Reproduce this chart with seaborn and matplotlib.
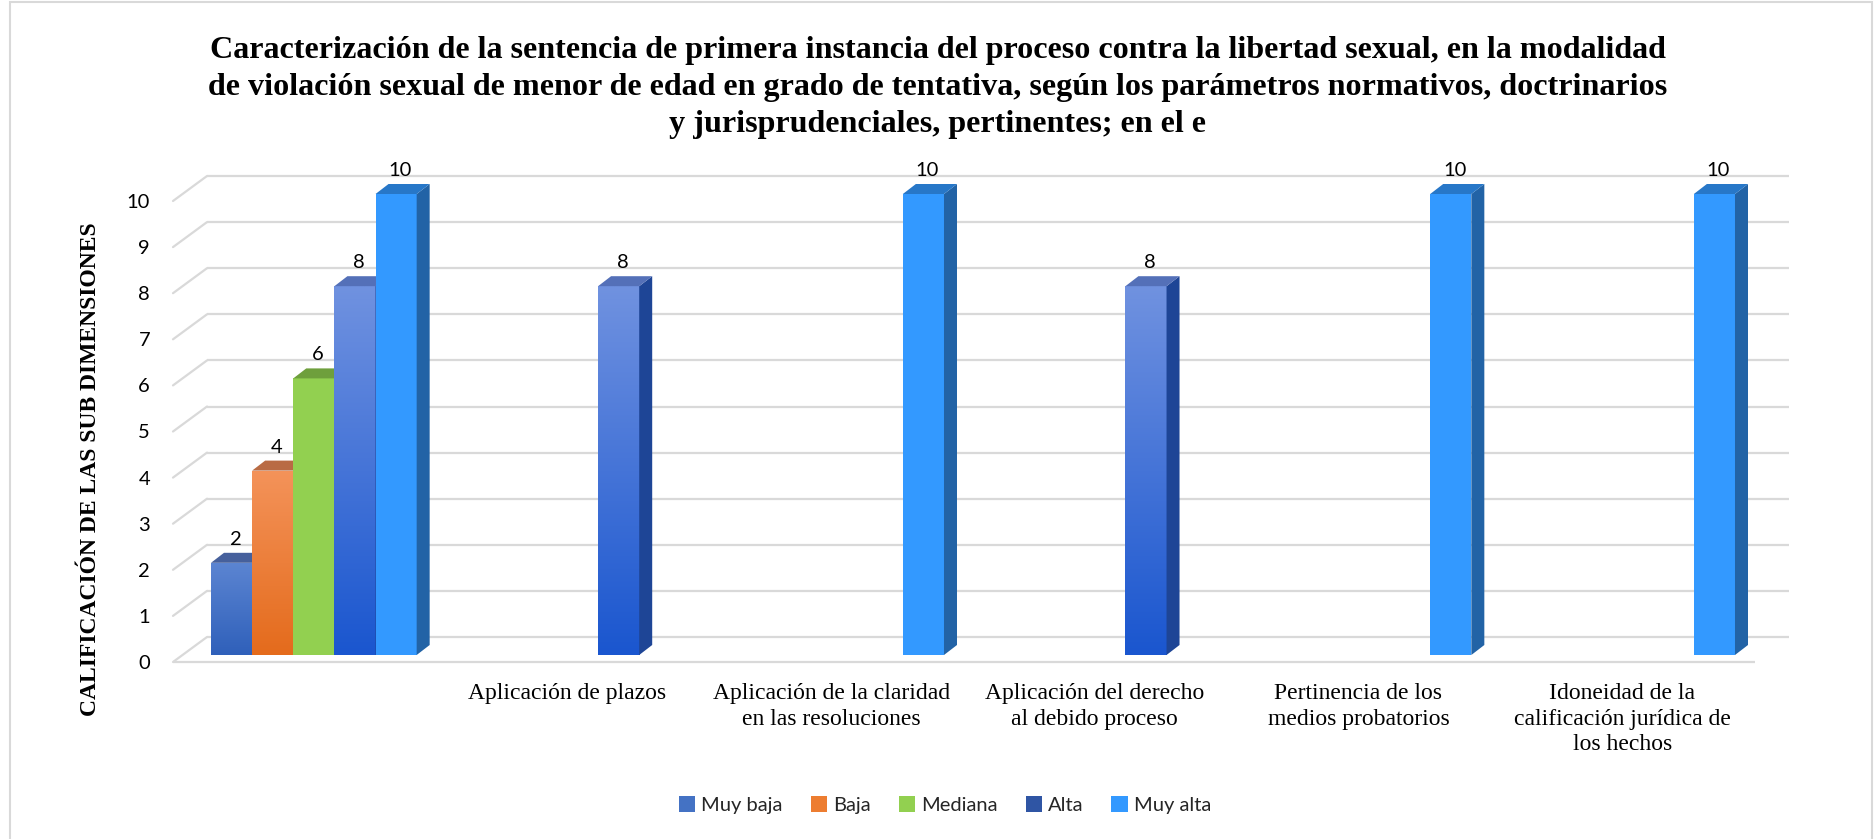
import matplotlib
matplotlib.use("Agg")
import matplotlib.pyplot as plt
import numpy as np
import pandas as pd
import seaborn as sns
from matplotlib.colors import LinearSegmentedColormap, to_hex
from matplotlib.patches import Polygon, Rectangle
from matplotlib.transforms import ScaledTranslation

TITLE_LINES = [
    "Caracterización de la sentencia de primera instancia del proceso contra la libertad sexual, en la modalidad",
    "de violación sexual de menor de edad en grado de tentativa, según los parámetros normativos, doctrinarios",
    "y jurisprudenciales, pertinentes; en el e",
]
Y_LABEL = "CALIFICACIÓN DE LAS SUB DIMENSIONES"

CATEGORIES = [
    "",
    "Aplicación de plazos",
    "Aplicación de la claridad\nen las resoluciones",
    "Aplicación del derecho\nal debido proceso",
    "Pertinencia de los\nmedios probatorios",
    "Idoneidad de la\ncalificación jurídica de\nlos hechos",
]
SERIES = ["Muy baja", "Baja", "Mediana", "Alta", "Muy alta"]

MUY_BAJA = [2, None, None, None, None, None]
BAJA = [4, None, None, None, None, None]
MEDIANA = [6, None, None, None, None, None]
ALTA = [8, 8, None, 8, None, None]
MUY_ALTA = [10, None, 10, None, 10, 10]
Y_TICKS = list(range(0, 11))

# colours: (bottom of front face, top of front face, side face, top face)
STYLE = {
    "Muy baja": ("#2f60ba", "#5c85d2", "#2a4f94", "#46609c"),
    "Baja":     ("#e46b1c", "#f4935a", "#b55a22", "#b96b44"),
    "Mediana":  ("#92d050", "#92d050", "#6e9f3c", "#6e9f3c"),
    "Alta":     ("#1a56cf", "#7092e0", "#1e4596", "#5470b8"),
    "Muy alta": ("#3399ff", "#3399ff", "#2263a6", "#2777c8"),
}
LEGEND_COLORS = {"Muy baja": "#4472c4", "Baja": "#ed7d31", "Mediana": "#92d050",
                 "Alta": "#2f55a4", "Muy alta": "#3399ff"}

rows = []
for name, vals in zip(SERIES, [MUY_BAJA, BAJA, MEDIANA, ALTA, MUY_ALTA]):
    for cat, v in zip(CATEGORIES, vals):
        if v is not None:
            rows.append({"categoria": cat, "nivel": name, "valor": v})
df = pd.DataFrame(rows)

sns.set_style("white")
W, H = 1875, 839
fig = plt.figure(figsize=(W / 100, H / 100), dpi=100)
fig.patch.set_facecolor("white")
renderer = fig.canvas.get_renderer()


def fit_size(s, target_px, **kw):
    t = fig.text(0, 0, s, fontsize=20, **kw)
    w = t.get_window_extent(renderer).width
    t.remove()
    return 20 * target_px / w


# axes = plane of the bars' front faces (pixel geometry)
left_px, right_px, zero_px, top_px = 182, 1764, 655, 194
ax = fig.add_axes([left_px / W, (H - zero_px) / H, (right_px - left_px) / W, (zero_px - top_px) / H])
ax.set_facecolor("none")

face_palette = {k: STYLE[k][0] for k in SERIES}
sns.barplot(data=df, x="categoria", y="valor", hue="nivel", order=CATEGORIES, hue_order=SERIES,
            palette=face_palette, width=0.78, gap=0, saturation=1, errorbar=None,
            legend=False, ax=ax)

XLIM, YLIM = (-0.5, 5.5), (0, 10)
ax.set_xlim(*XLIM)
ax.set_ylim(*YLIM)
for s in ax.spines.values():
    s.set_visible(False)

px_x = (right_px - left_px) / (XLIM[1] - XLIM[0])
px_y = (zero_px - top_px) / (YLIM[1] - YLIM[0])
# depth offsets in data units
bar_dx, bar_dy = 13 / px_x, 10 / px_y
wall_dx, wall_dy = 25 / px_x, 18 / px_y
front_dx, front_dy = -9 / px_x, -7 / px_y

grid_c = "#d9d9d9"
for y in Y_TICKS:
    ax.plot([XLIM[0] + wall_dx, XLIM[1] + wall_dx], [y + wall_dy, y + wall_dy],
            color=grid_c, lw=1.6, zorder=0.5, clip_on=False, solid_capstyle="butt")
    ax.plot([XLIM[0] + front_dx, XLIM[0] + wall_dx], [y + front_dy, y + wall_dy],
            color=grid_c, lw=1.6, zorder=0.5, clip_on=False)
ax.plot([XLIM[0] + front_dx, XLIM[1] + front_dx], [front_dy, front_dy],
        color=grid_c, lw=1.6, zorder=0.5, clip_on=False, solid_capstyle="butt")

face_to_series = {to_hex(STYLE[k][0]): k for k in SERIES}
for p in list(ax.patches):
    name = face_to_series.get(to_hex(p.get_facecolor()))
    if name is None:
        continue
    k = SERIES.index(name)
    bottom_c, top_c, side_c, cap_c = STYLE[name]
    x0, w, h = p.get_x(), p.get_width(), p.get_height()
    z = 2 + 0.1 * k
    p.set_zorder(z)
    p.set_edgecolor("none")
    if bottom_c != top_c:
        cmap = LinearSegmentedColormap.from_list(name, [bottom_c, top_c])
        im = ax.imshow(np.linspace(0, 1, 256).reshape(-1, 1), extent=(x0, x0 + w, 0, h),
                       origin="lower", aspect="auto", cmap=cmap, zorder=z + 0.01)
        im.set_clip_path(p)
    side = Polygon([(x0 + w, 0), (x0 + w + bar_dx, bar_dy), (x0 + w + bar_dx, h + bar_dy), (x0 + w, h)],
                   closed=True, facecolor=side_c, edgecolor="none", zorder=z + 0.05, clip_on=False)
    cap = Polygon([(x0, h), (x0 + bar_dx, h + bar_dy), (x0 + w + bar_dx, h + bar_dy), (x0 + w, h)],
                  closed=True, facecolor=cap_c, edgecolor="none", zorder=z + 0.05, clip_on=False)
    ax.add_patch(side)
    ax.add_patch(cap)
    ax.text(x0 + w / 2 + bar_dx * 0.3, h + bar_dy + 5 / px_y, f"{h:g}", ha="center", va="bottom",
            fontsize=14.5, family="Lato", color="#000000", zorder=5, clip_on=False)

ax.set_xlim(*XLIM)
ax.set_ylim(*YLIM)
ax.set_yticks(Y_TICKS)
ax.set_xlabel("")
ax.set_ylabel("")
ax.tick_params(axis="y", length=0, pad=23, labelsize=14.5, labelcolor="#000000")
ax.tick_params(axis="x", length=0, pad=20, labelsize=17, labelcolor="#000000")
for lbl in ax.get_yticklabels():
    lbl.set_family("Lato")
    lbl.set_transform(lbl.get_transform() + ScaledTranslation(0, -7 / 100, fig.dpi_scale_trans))
for lbl in ax.get_xticklabels():
    lbl.set_family("Liberation Serif")
    lbl.set_linespacing(1.3)
    lbl.set_transform(lbl.get_transform() + ScaledTranslation(-10 / 100, 0, fig.dpi_scale_trans))

# title: three centred lines, sized so the first line spans the reference width
title_size = fit_size(TITLE_LINES[0], 1457, family="Liberation Serif", fontweight="bold")
for line, base_px in zip(TITLE_LINES, [58, 95, 132]):
    fig.text(0.5, 1 - base_px / H, line, ha="center", va="baseline", fontsize=title_size,
             fontweight="bold", family="Liberation Serif", color="#000000")

ylab_size = fit_size(Y_LABEL, 494, family="Liberation Serif", fontweight="bold")
fig.text(91 / W, 1 - 469 / H, Y_LABEL, ha="center", va="center", rotation=90,
         fontsize=ylab_size, fontweight="bold", family="Liberation Serif", color="#000000")

handles = [Rectangle((0, 0), 1, 1, facecolor=LEGEND_COLORS[k], edgecolor="none") for k in SERIES]
fig.legend(handles, SERIES, loc="center", bbox_to_anchor=(945 / W, 1 - 805 / H), ncol=5,
           frameon=False, handlelength=0.8, handleheight=0.8, handletextpad=0.3,
           columnspacing=1.4, prop={"family": "Lato", "size": 14.5})

fig.patches.append(Rectangle((10 / W, -0.01), (1872 - 10) / W, 1 - 2 / H + 0.01, transform=fig.transFigure,
                             fill=False, edgecolor="#d9d9d9", lw=1.5))

fig.savefig("out.png", dpi=100, facecolor="white")
